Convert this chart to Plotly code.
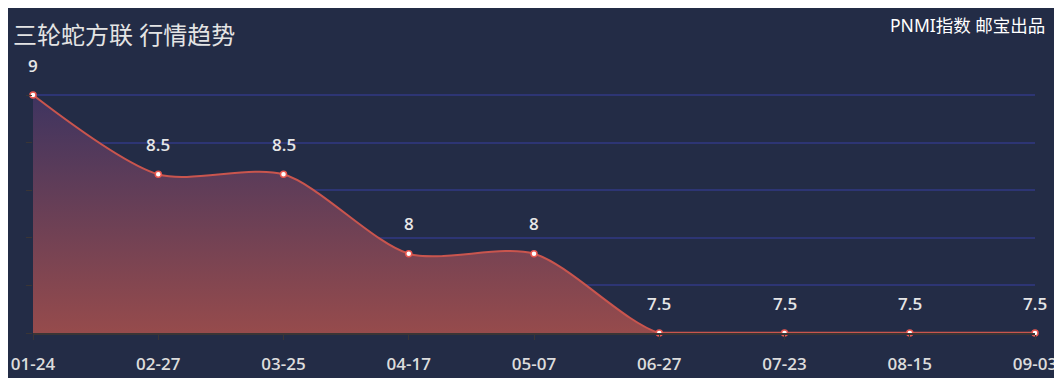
import plotly.graph_objects as go

dates = ["01-24", "02-27", "03-25", "04-17", "05-07", "06-27", "07-23", "08-15", "09-03"]
prices = [9, 8.5, 8.5, 8, 8, 7.5, 7.5, 7.5, 7.5]
title_text = "三轮蛇方联 行情趋势"
credit_text = "PNMI指数 邮宝出品"

W, H = 1046, 370
PAD = 4                      # extra pixels above the top grid line
L, R, T, B = 25, 19, 87 - PAD, 45
PW, PH = W - L - R, H - T - B

BG = "#232c46"
FONT = "Noto Sans, Noto Sans CJK SC, sans-serif"
NUMFONT = "Open Sans, Noto Sans, sans-serif"
LINE = "#c9554e"

xs = list(range(len(dates)))
ymin, ymax = 7.5, 9
ytop = ymax + PAD * (ymax - ymin) / (PH - PAD)

fig = go.Figure()
# smoothed area + line
fig.add_trace(go.Scatter(
    x=xs, y=prices, mode="lines",
    line=dict(color=LINE, width=2, shape="spline", smoothing=0.8),
    fill="tozeroy",
    fillgradient=dict(type="vertical", start=ymin, stop=ymax,
                      colorscale=[[0, "rgb(150,75,76)"], [1, "rgb(62,52,96)"]]),
    hoverinfo="skip", showlegend=False,
))
# flat tail drawn on top of the axis (where the values stay at the minimum)
tail = [i for i, v in enumerate(prices) if v == min(prices)]
fig.add_trace(go.Scatter(
    x=[xs[i] for i in tail], y=[prices[i] for i in tail], mode="lines",
    line=dict(color=LINE, width=2.5), hoverinfo="skip", showlegend=False,
    cliponaxis=False,
))
# markers
fig.add_trace(go.Scatter(
    x=xs, y=prices, mode="markers",
    marker=dict(size=6, color="white", line=dict(color="#e8574f", width=1.5)),
    hoverinfo="skip", showlegend=False, cliponaxis=False,
))

for x, v in zip(xs, prices):
    fig.add_annotation(x=x, y=v, text=f"{v:g}", showarrow=False, yshift=30,
                       font=dict(size=17, color="#e6e6e6", family=NUMFONT, weight=600))

fig.add_annotation(xref="paper", yref="paper",
                   x=(1047 - 8 - L) / PW, y=1 + (T - 17) / PH,
                   xanchor="right", yanchor="middle", showarrow=False,
                   text=credit_text, font=dict(size=17.5, color="#ffffff", family=FONT))

fig.update_layout(
    width=W, height=H,
    margin=dict(l=L, r=R, t=T, b=B, autoexpand=False),
    paper_bgcolor=BG, plot_bgcolor=BG,
    title=dict(text=title_text, x=5 / W, xanchor="left", y=1 - 28 / H, yanchor="middle",
               font=dict(size=24, color="#e4e4e4", family=FONT)),
    xaxis=dict(range=[0, len(dates) - 1], tickmode="array", tickvals=xs, ticktext=dates,
               showgrid=False, zeroline=False, showline=True, linecolor="#3a3535", linewidth=1.5,
               ticks="outside", ticklen=5, tickcolor="#3a3535", automargin=False,
               ticklabeloverflow="allow",
               tickfont=dict(size=17, color="#dcdcdc", family=NUMFONT, weight=600),
               ticklabelstandoff=10),
    yaxis=dict(range=[ymin, ytop], tickmode="linear", tick0=ymin, dtick=0.3,
               showgrid=True, gridcolor="#2d3574", gridwidth=1.5, zeroline=False,
               showline=False, showticklabels=False, automargin=False,
               ticks="outside", ticklen=6, tickcolor="#3a3535"),
)

fig.write_html("out.html")
